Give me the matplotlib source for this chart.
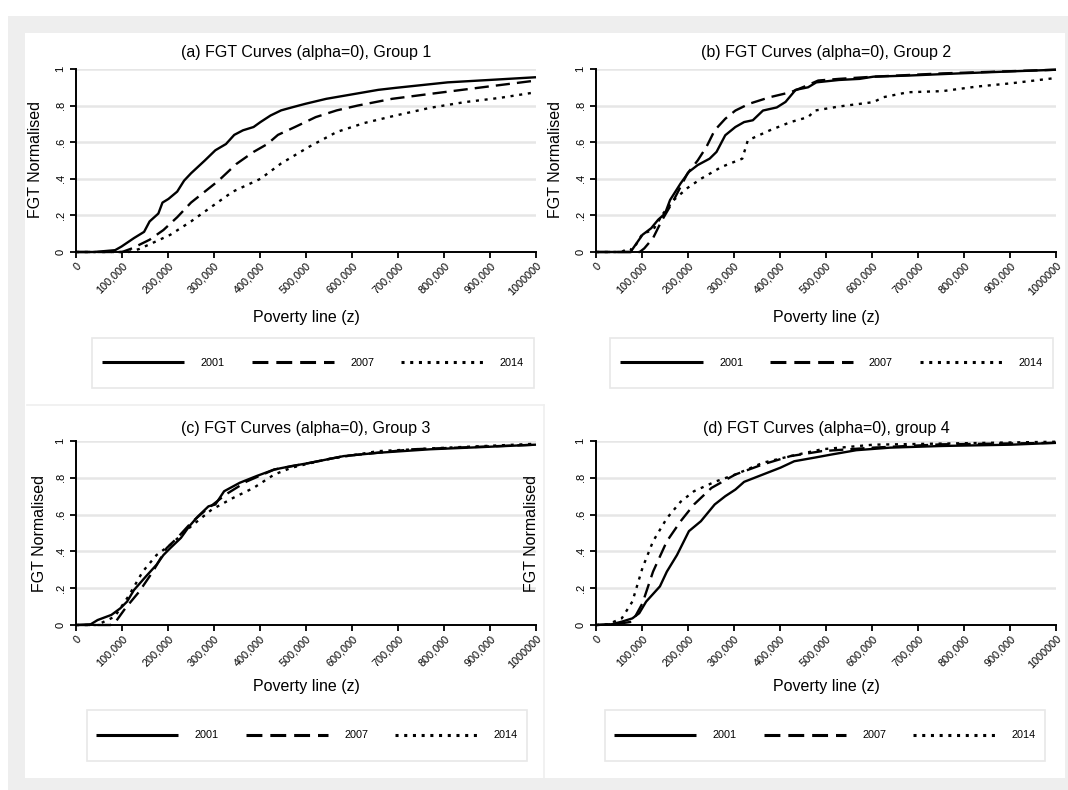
import matplotlib
matplotlib.use("Agg")
import matplotlib.pyplot as plt
from matplotlib.patches import Rectangle
from matplotlib.lines import Line2D

plt.rcParams['font.family'] = ['Liberation Sans', 'DejaVu Sans']

W, H = 1068, 790

# ---------------- data (x in thousands, y = FGT normalised) ----------------
years = ["2001", "2007", "2014"]
titles = ["(a) FGT Curves (alpha=0), Group 1", "(b) FGT Curves (alpha=0), Group 2",
          "(c) FGT Curves (alpha=0), Group 3", "(d) FGT Curves (alpha=0), group 4"]
xticks_vals = [0, 100000, 200000, 300000, 400000, 500000, 600000, 700000, 800000, 900000, 1000000]
xtick_labels = ["0", "100,000", "200,000", "300,000", "400,000", "500,000", "600,000",
                "700,000", "800,000", "900,000", "1000000"]
yticks_vals = [0, 0.2, 0.4, 0.6, 0.8, 1.0]
ytick_labels = ["0", ".2", ".4", ".6", ".8", "1"]

g1_2001_x = [0, 40, 85, 99, 126, 148, 160, 179, 188, 201, 220, 235, 250, 280, 303, 326, 344, 363, 386, 401, 423, 446, 469, 499, 544, 597, 657, 695, 808, 898, 1000]
g1_2001_y = [0, 0, 0.01, 0.03, 0.076, 0.11, 0.167, 0.21, 0.27, 0.29, 0.33, 0.39, 0.43, 0.50, 0.556, 0.59, 0.64, 0.665, 0.683, 0.71, 0.746, 0.774, 0.79, 0.81, 0.837, 0.86, 0.886, 0.897, 0.927, 0.94, 0.955]
g1_2007_x = [0, 100, 122, 160, 190, 220, 250, 280, 310, 348, 386, 416, 439, 476, 521, 567, 612, 687, 770, 883, 1000]
g1_2007_y = [0, 0, 0.02, 0.067, 0.12, 0.19, 0.27, 0.33, 0.39, 0.48, 0.547, 0.59, 0.64, 0.683, 0.737, 0.774, 0.80, 0.837, 0.864, 0.90, 0.937]
g1_2014_x = [0, 115, 137, 167, 205, 250, 295, 341, 401, 446, 506, 567, 627, 695, 770, 845, 921, 1000]
g1_2014_y = [0, 0, 0.016, 0.05, 0.094, 0.167, 0.248, 0.33, 0.40, 0.484, 0.574, 0.656, 0.705, 0.746, 0.788, 0.819, 0.842, 0.873]

g2_2001_x = [0, 75, 101, 120, 135, 150, 161, 184, 202, 221, 247, 262, 281, 303, 322, 341, 363, 393, 412, 434, 461, 479, 528, 573, 603, 678, 790, 903, 1000]
g2_2001_y = [0, 0, 0.094, 0.13, 0.176, 0.21, 0.284, 0.375, 0.438, 0.475, 0.51, 0.547, 0.638, 0.683, 0.71, 0.72, 0.773, 0.79, 0.82, 0.886, 0.90, 0.927, 0.94, 0.946, 0.958, 0.964, 0.976, 0.987, 0.996]
g2_2007_x = [0, 95, 105, 124, 142, 169, 199, 221, 240, 258, 281, 303, 333, 378, 423, 453, 483, 528, 603, 753, 1000]
g2_2007_y = [0, 0, 0.02, 0.076, 0.167, 0.284, 0.43, 0.50, 0.574, 0.665, 0.728, 0.773, 0.81, 0.846, 0.873, 0.904, 0.937, 0.946, 0.958, 0.976, 0.996]
g2_2014_x = [0, 55, 71, 80, 101, 124, 146, 169, 199, 228, 273, 318, 330, 378, 423, 461, 476, 528, 603, 625, 678, 753, 828, 903, 1000]
g2_2014_y = [0, 0, 0.02, 0.01, 0.10, 0.12, 0.21, 0.284, 0.35, 0.40, 0.465, 0.51, 0.61, 0.665, 0.71, 0.737, 0.773, 0.795, 0.819, 0.846, 0.873, 0.879, 0.904, 0.922, 0.951]

g3_2001_x = [0, 32, 47, 77, 96, 111, 126, 152, 175, 190, 205, 228, 246, 265, 288, 303, 322, 356, 393, 431, 469, 506, 582, 657, 770, 883, 1000]
g3_2001_y = [0, 0.004, 0.027, 0.055, 0.09, 0.127, 0.19, 0.264, 0.327, 0.38, 0.418, 0.473, 0.536, 0.59, 0.645, 0.655, 0.727, 0.773, 0.81, 0.845, 0.864, 0.88, 0.918, 0.936, 0.955, 0.967, 0.98]
g3_2007_x = [0, 75, 84, 107, 137, 167, 197, 220, 250, 280, 326, 371, 431, 506, 582, 732, 1000]
g3_2007_y = [0, 0, 0.01, 0.09, 0.18, 0.29, 0.418, 0.473, 0.555, 0.62, 0.71, 0.78, 0.845, 0.88, 0.918, 0.955, 0.98]
g3_2014_x = [0, 45, 54, 84, 115, 145, 175, 205, 250, 295, 341, 386, 431, 469, 544, 657, 808, 1000]
g3_2014_y = [0, 0, 0.01, 0.045, 0.16, 0.29, 0.38, 0.436, 0.536, 0.627, 0.69, 0.745, 0.818, 0.855, 0.90, 0.945, 0.964, 0.985]

g4_2001_x = [0, 34, 56, 79, 94, 109, 139, 154, 176, 202, 228, 258, 281, 303, 322, 363, 401, 431, 476, 513, 566, 640, 753, 903, 1000]
g4_2001_y = [0, 0.004, 0.018, 0.036, 0.064, 0.127, 0.21, 0.29, 0.38, 0.51, 0.564, 0.655, 0.70, 0.736, 0.778, 0.818, 0.855, 0.89, 0.91, 0.927, 0.95, 0.964, 0.973, 0.98, 0.99]
g4_2007_x = [0, 41, 79, 101, 124, 154, 184, 213, 251, 303, 363, 423, 491, 603, 753, 1000]
g4_2007_y = [0, 0.004, 0.018, 0.118, 0.29, 0.455, 0.564, 0.655, 0.745, 0.818, 0.873, 0.918, 0.945, 0.964, 0.982, 0.99]
g4_2014_x = [0, 26, 56, 79, 101, 124, 154, 184, 213, 258, 303, 363, 423, 491, 603, 1000]
g4_2014_y = [0, 0.004, 0.036, 0.127, 0.31, 0.455, 0.58, 0.67, 0.727, 0.778, 0.818, 0.882, 0.918, 0.955, 0.98, 0.996]

groups = [
    [(g1_2001_x, g1_2001_y), (g1_2007_x, g1_2007_y), (g1_2014_x, g1_2014_y)],
    [(g2_2001_x, g2_2001_y), (g2_2007_x, g2_2007_y), (g2_2014_x, g2_2014_y)],
    [(g3_2001_x, g3_2001_y), (g3_2007_x, g3_2007_y), (g3_2014_x, g3_2014_y)],
    [(g4_2001_x, g4_2001_y), (g4_2007_x, g4_2007_y), (g4_2014_x, g4_2014_y)],
]

# ---------------- layout (pixels) ----------------
def fx(px):
    return px / W

def fy(py):
    return 1 - py / H

axes_px = [(76, 536, 69, 252), (596, 1056, 69, 252), (76, 536, 441, 625), (596, 1056, 441, 625)]
title_px = [(306, 53), (826, 53), (306, 428), (826, 428)]
ylabel_px = [(36, 160), (556, 160), (40, 533), (531, 533)]
xlabel_px = [(306, 318), (826, 318), (306, 687), (826, 687)]
legbox_px = [(92, 534, 338, 388), (610, 1053, 338, 388), (87, 527, 710, 761), (605, 1045, 710, 761)]

curve_lw = 1.7
curve_styles = ['-', (0, (6, 3)), (0, (1.3, 2.4))]
leg_lw = 2.2
leg_styles = ['-', (0, (5.2, 2.6)), (0, (1.0, 1.85))]

fig = plt.figure(figsize=(W / 100, H / 100), dpi=100)
fig.patch.set_facecolor('white')

# background frames
fig.patches.append(Rectangle((fx(8), fy(790)), fx(1068) - fx(8), fy(16) - fy(790),
                             transform=fig.transFigure, facecolor='#eeeeee', edgecolor='none', zorder=-10))
fig.patches.append(Rectangle((fx(25), fy(778)), fx(1065) - fx(25), fy(33) - fy(778),
                             transform=fig.transFigure, facecolor='white', edgecolor='none', zorder=-9))
fig.lines.append(Line2D([fx(27), fx(544)], [fy(405), fy(405)], transform=fig.transFigure,
                        color='#efefef', lw=1.2, zorder=-8))
fig.lines.append(Line2D([fx(544), fx(544)], [fy(405), fy(778)], transform=fig.transFigure,
                        color='#efefef', lw=1.2, zorder=-8))

for i in range(4):
    x0, x1, yt, yb = axes_px[i]
    ax = fig.add_axes([fx(x0), fy(yb), fx(x1) - fx(x0), fy(yt) - fy(yb)])
    ax.set_facecolor('none')
    handles = []
    for j, (xs, ys) in enumerate(groups[i]):
        xv = [v * 1000 for v in xs]
        ln, = ax.plot(xv, ys, color='black', lw=curve_lw, linestyle=curve_styles[j],
                      clip_on=False, label=years[j],
                      solid_capstyle='butt', dash_capstyle='butt', solid_joinstyle='round')
        handles.append(ln)
    ax.set_xlim(0, 1000000)
    ax.set_ylim(0, 1)
    ax.set_xticks(xticks_vals)
    ax.set_xticklabels(xtick_labels, rotation=45, ha='right', va='top',
                       rotation_mode='anchor', fontsize=7.8)
    ax.set_yticks(yticks_vals)
    ax.set_yticklabels(ytick_labels, rotation=90, va='center', fontsize=8)
    ax.tick_params(axis='both', direction='out', length=4.5, width=1.3, color='black', pad=3)
    ax.tick_params(axis='x', pad=2)
    for s in ['top', 'right']:
        ax.spines[s].set_visible(False)
    for s in ['left', 'bottom']:
        ax.spines[s].set_linewidth(1.4)
    ax.yaxis.grid(True, color='#e6e6e6', lw=1.8)
    ax.set_axisbelow(True)

    tx, ty = title_px[i]
    fig.text(fx(tx), fy(ty), titles[i], ha='center', va='center', fontsize=11.5)
    lx, ly = ylabel_px[i]
    fig.text(fx(lx), fy(ly), "FGT Normalised", ha='center', va='center', rotation=90, fontsize=11.5)
    bx, by = xlabel_px[i]
    fig.text(fx(bx), fy(by), "Poverty line (z)", ha='center', va='center', fontsize=11.5)

    lb0, lb1, lbt, lbb = legbox_px[i]
    fig.patches.append(Rectangle((fx(lb0), fy(lbb)), fx(lb1) - fx(lb0), fy(lbt) - fy(lbb),
                                 transform=fig.transFigure, facecolor='white',
                                 edgecolor='#e8e8e8', lw=1.2, zorder=-5))
    leg = fig.legend(handles=handles, loc='center', ncol=3, frameon=False,
                     bbox_to_anchor=(fx((lb0 + lb1) / 2), fy((lbt + lbb) / 2)),
                     bbox_transform=fig.transFigure, fontsize=7.8,
                     handlelength=7.6, handletextpad=1.5, columnspacing=2.5)
    for k, hl in enumerate(leg.get_lines()):
        hl.set_linewidth(leg_lw)
        hl.set_linestyle(leg_styles[k])

fig.savefig("out.png", dpi=100, facecolor='white')
